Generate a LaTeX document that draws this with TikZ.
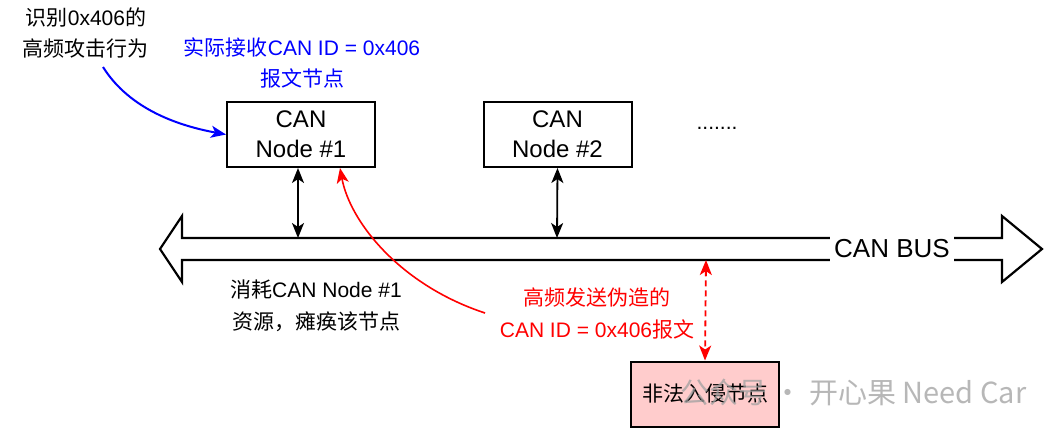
\documentclass[tikz,border=0pt]{standalone}
\usepackage{fontspec}
\setmainfont{Liberation Sans}
\newfontfamily\cjk{Noto Sans CJK SC}
\usetikzlibrary{arrows.meta}
\definecolor{pinkfill}{HTML}{FFCCCC}
\definecolor{wmgray}{HTML}{A0A0A0}
\tikzset{
  canbox/.style={draw, line width=2pt, minimum width=148, minimum height=65, align=center, inner sep=0pt, font=\fontsize{24}{30}\selectfont},
  lbl/.style={align=center, inner sep=0pt, font=\fontsize{21}{31.5}\selectfont},
  tip/.style={-{Stealth[length=15pt,width=12pt,inset=4pt]}},
  dtip/.style={{Stealth[length=15pt,width=12pt,inset=4pt]}-{Stealth[length=15pt,width=12pt,inset=4pt]}},
}
\begin{document}
\begin{tikzpicture}[x=1pt,y=-1pt]
\useasboundingbox[fill=white] (0,0) rectangle (1063,432);

% bus
\draw[line width=2.2pt, line join=miter] (160,249) -- (182,216) -- (182,238) -- (1002,238) -- (1002,216) -- (1042,249) -- (1002,282) -- (1002,260) -- (182,260) -- (182,282) -- cycle;
\node[fill=white, inner xsep=4pt, inner ysep=8pt, font=\fontsize{26}{30}\selectfont] (bus) at (892,249) {CAN BUS};
\coordinate (b1) at (298,238);
\coordinate (b2) at (557,238);
\coordinate (b3) at (706,260);

% nodes
\node[canbox] (n1) at (301,134.5) {CAN\\Node \#1};
\node[canbox] (n2) at (557.5,134.5) {CAN\\Node \#2};
\node[inner sep=0pt, font=\fontsize{21}{25}\selectfont] (dots) at (717,128) {.......};
\node[canbox, fill=pinkfill, font=\fontsize{21}{25}\selectfont\cjk] (evil) at (705,394) {非法入侵节点};

% labels
\node[lbl] (t1) at (86,33) {{\cjk 识别}0x406{\cjk 的}\\{\cjk 高频攻击行为}};
\node[lbl, text=blue] (t2) at (302,63) {{\cjk 实际接收}CAN ID = 0x406\\{\cjk 报文节点}};
\node[lbl] (t3) at (316,306) {{\cjk 消耗}CAN Node \#1\\{\cjk 资源，瘫痪该节点}};
\node[lbl, text=red] (t4) at (597,313.5) {{\cjk 高频发送伪造的}\\CAN ID = 0x406{\cjk 报文}};

% connectors
\draw[dtip, line width=1.8pt] ([xshift=-3pt]n1.south) -- (b1);
\draw[dtip, line width=1.8pt] (n2.south) -- (b2);
\draw[dtip, red, line width=1.8pt, dash pattern=on 6pt off 4pt] (b3) -- (evil.north);
\coordinate (bstart) at (103,67);
\draw[tip, blue, line width=2pt] (bstart) .. controls (130,110) and (180,126) .. (n1.west);
\coordinate (rstart) at (485,313);
\draw[tip, red, line width=1.6pt] (rstart) .. controls (400,285) and (350,222) .. ([xshift=39pt]n1.south);

% watermark
\node[text=wmgray, opacity=0.75, inner sep=0pt, anchor=west, font=\fontsize{29}{30}\selectfont\cjk] (wm) at (680,392) {公众号 · 开心果 Need Car};
\end{tikzpicture}
\end{document}
